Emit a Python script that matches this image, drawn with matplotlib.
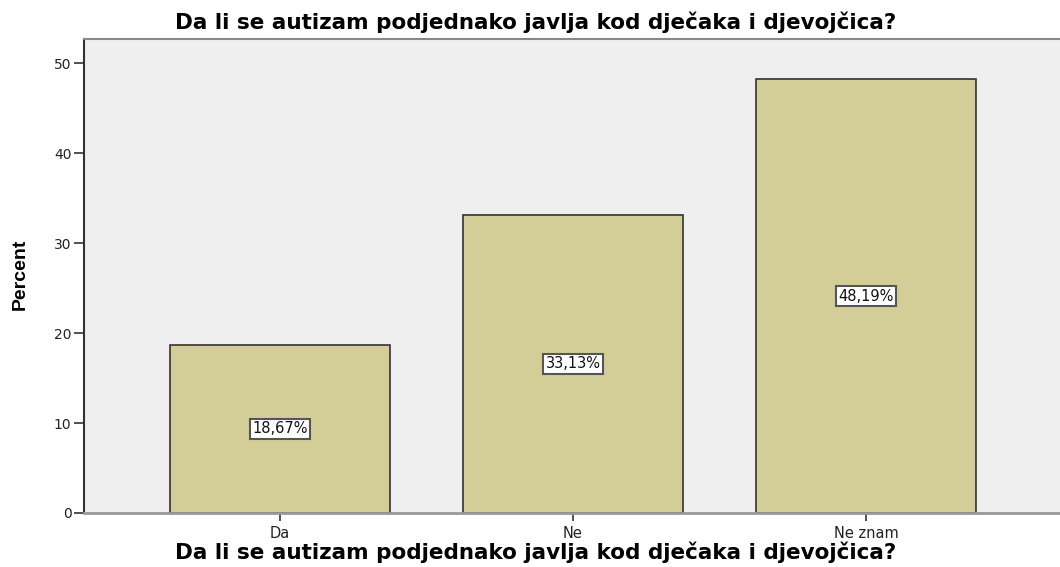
import matplotlib
matplotlib.use("Agg")
import matplotlib.pyplot as plt

categories = ["Da", "Ne", "Ne znam"]
values = [18.67, 33.13, 48.19]
labels = ["18,67%", "33,13%", "48,19%"]
yticks = [0, 10, 20, 30, 40, 50]
title = "Da li se autizam podjednako javlja kod dječaka i djevojčica?"

plt.rcParams['font.family'] = ['DejaVu Sans']

fig = plt.figure(figsize=(10.6, 5.67), dpi=100)
ax = fig.add_axes([84/1060, 1 - 513/567, (1060-84)/1060, (513-39)/567])
ax.set_facecolor("#EFEFEF")

x = list(range(len(categories)))
ax.bar(x, values, width=0.75, color="#D3CE97", edgecolor="#333333", linewidth=1.2, zorder=2)
for xi, v, lab in zip(x, values, labels):
    ax.text(xi, v / 2, lab, ha="center", va="center", fontsize=10.5, zorder=3, color="#111111",
            bbox=dict(boxstyle="square,pad=0.15", facecolor="white", edgecolor="#555555", linewidth=1.5))

ax.set_xlim(-0.669, 2.662)
ax.set_ylim(0, 52.67)
ax.set_yticks(yticks)
ax.set_xticks(x)
ax.set_xticklabels(categories, fontsize=10.5)
ax.tick_params(axis="y", length=7, width=1.2, labelsize=10, direction="out", color="#333333",
               labelcolor="#222222", pad=2)
ax.tick_params(axis="x", length=6, width=1.2, direction="out", color="#333333", labelcolor="#222222", pad=3)

ax.spines["right"].set_visible(False)
ax.spines["left"].set_color("#333333")
ax.spines["left"].set_linewidth(1.5)
ax.spines["top"].set_color("#888888")
ax.spines["top"].set_linewidth(1.5)
ax.spines["bottom"].set_color("#999999")
ax.spines["bottom"].set_linewidth(2)

fig.text(536/1060, 1 - 22/567, title, ha="center", va="center", fontsize=15.5, fontweight="bold")
fig.text(536/1060, 1 - 552/567, title, ha="center", va="center", fontsize=15.5, fontweight="bold")
fig.text(20/1060, 1 - 274/567, "Percent", ha="center", va="center", rotation=90,
         fontsize=14, fontweight="bold", family=['Liberation Sans Narrow', 'Liberation Sans', 'DejaVu Sans'])

fig.savefig("out.png", dpi=100)
